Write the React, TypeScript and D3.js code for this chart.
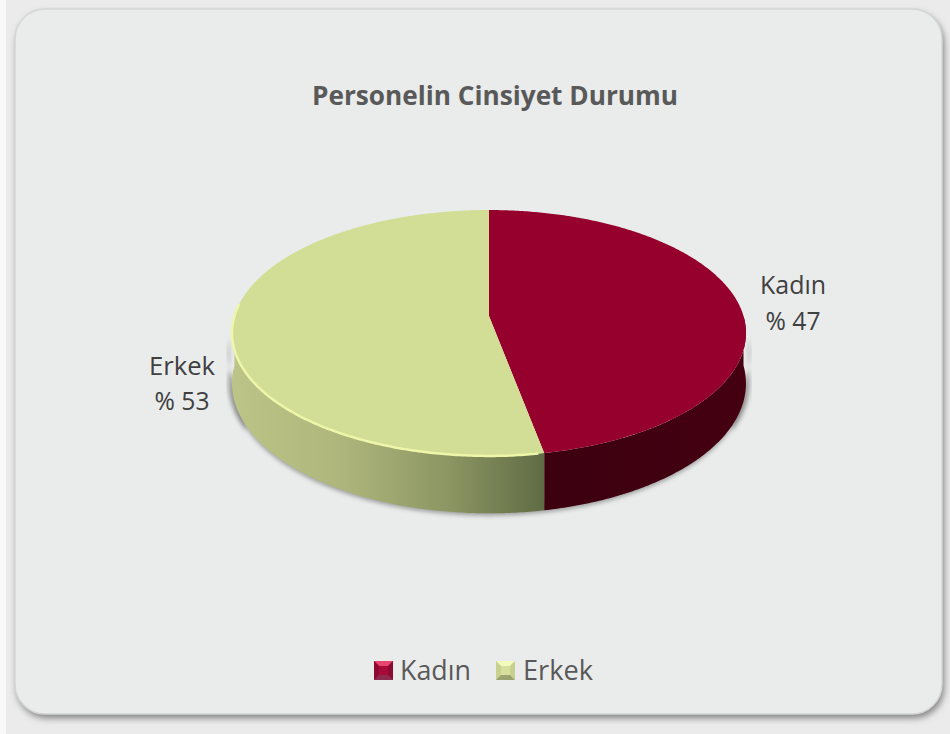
import React from "react";
import * as d3 from "d3";

const categories = ["Kadın", "Erkek"];
const values = [47, 53];
const labels = ["% 47", "% 53"];
const topColors = ["#95002d", "#d2dd95"];
const title = "Personelin Cinsiyet Durumu";

const W = 950, H = 734;
const CX = 489, CY = 316, RX = 254.5, RY = 120.6, K = 0.138, DEPTH = 49.5;

// Tilted-disc projection of a pie angle (0 = top, clockwise)
const project = (a: number, r = 1, drop = 0): [number, number] => {
  const u = Math.sin(a) * r, v = -Math.cos(a) * r;
  const w = 1 / (1 - K * v);
  return [CX + RX * u * w, CY + RY * v * w + drop * w];
};
const angles = (a0: number, a1: number) => {
  const n = Math.max(2, Math.ceil((a1 - a0) / 0.01));
  return d3.range(n + 1).map((i) => a0 + ((a1 - a0) * i) / n);
};
const line = d3.line();
const pieGen = d3.pie<number>().sort(null).value((d) => d);
const slices = pieGen(values);

const sidePath = (a0: number, a1: number, drop = DEPTH, startDrop = 0) => {
  const as = angles(a0, a1);
  const pts = [...as.map((a) => project(a, 1, startDrop)), ...as.slice().reverse().map((a) => project(a, 1, drop))];
  return line(pts) + "Z";
};
const topPath = (a0: number, a1: number) =>
  line([[CX, CY], ...angles(a0, a1).map((a) => project(a))]) + "Z";
const rimPath = (a0: number, a1: number) => line(angles(a0, a1).map((a) => project(a)))!;

const boundary = slices[0].endAngle;
const LEFT = (3 * Math.PI) / 2, RIGHT = Math.PI / 2;

function Bevel({ x, y, size, base, side, top, bottom }: any) {
  const b = size * 0.26;
  return (
    <g transform={`translate(${x},${y})`}>
      <rect width={size} height={size} fill={base} />
      <path d={`M0,0H${size}L${size - b},${b}H${b}Z`} fill={top} />
      <path d={`M0,0V${size}L${b},${size - b}V${b}Z`} fill={side} />
      <path d={`M${size},0V${size}L${size - b},${size - b}V${b}Z`} fill={side} />
      <path d={`M0,${size}H${size}L${size - b},${size - b}H${b}Z`} fill={bottom} />
    </g>
  );
}

export default function App() {
  const font = "'Open Sans', Lato, sans-serif";
  return (
    <svg width={W} height={H} style={{ position: "fixed", left: 0, top: 0, display: "block" }}>
      <defs>
        <filter id="cardShadow" x="-5%" y="-5%" width="110%" height="110%">
          <feGaussianBlur stdDeviation="3.5" />
        </filter>
        <filter id="pieShadow" x="-10%" y="-10%" width="120%" height="120%">
          <feGaussianBlur stdDeviation="2" />
        </filter>
        <linearGradient id="sideErkek" gradientUnits="userSpaceOnUse" x1="232" x2="545" y1="0" y2="0">
          <stop offset="0" stopColor="#bcc587" />
          <stop offset="0.35" stopColor="#aeb67c" />
          <stop offset="0.7" stopColor="#8b9562" />
          <stop offset="1" stopColor="#5f6b44" />
        </linearGradient>
        <linearGradient id="sideKadin" gradientUnits="userSpaceOnUse" x1="545" x2="746" y1="0" y2="0">
          <stop offset="0" stopColor="#3c000f" />
          <stop offset="1" stopColor="#440011" />
        </linearGradient>
      </defs>

      <rect width={W} height={H} fill="#ebebeb" />
      <rect x={0} width={6} height={H} fill="#f8f8f8" />
      <rect x={15} y={9} width={927} height={705} rx={30} fill="#808080" filter="url(#cardShadow)"
        transform="translate(2,4)" />
      <rect x={15} y={9} width={927} height={705} rx={30} fill="#eaeceb" stroke="#d4d6d5" strokeWidth={1.5} />

      <text x={495} y={105} textAnchor="middle" fontFamily={font} fontWeight={700} fontSize={27.5}
        fill="#595959" textLength={366} lengthAdjust="spacingAndGlyphs">{title}</text>

      {/* shadow beneath the disc */}
      <path d={sidePath(RIGHT + 0.1, LEFT - 0.1, DEPTH + 2, DEPTH - 6)} fill="#555" opacity={0.5} filter="url(#pieShadow)" />
      <path d={sidePath(RIGHT + 0.02, RIGHT + 0.5, DEPTH, 20)} fill="#555" opacity={0.45} filter="url(#pieShadow)" transform="translate(4,0)" />
      <path d={sidePath(LEFT - 0.5, LEFT - 0.02, DEPTH, 20)} fill="#555" opacity={0.45} filter="url(#pieShadow)" transform="translate(-4,0)" />

      {/* front wall */}
      <path d={sidePath(RIGHT, boundary)} fill="url(#sideKadin)" />
      <path d={sidePath(boundary, LEFT)} fill="url(#sideErkek)" />

      {/* top face */}
      {slices.map((s, i) => (
        <path key={categories[i]} d={topPath(s.startAngle, s.endAngle)} fill={topColors[i]} />
      ))}
      <path d={rimPath(slices[1].startAngle + 0.02, LEFT + 0.1)} fill="none" stroke="#eef6aa" strokeWidth={2.5} />

      {/* data labels */}
      <g fontFamily={font} fontSize={25} fill="#404040" textAnchor="middle">
        <text x={793} y={294} textLength={66} lengthAdjust="spacingAndGlyphs">{categories[0]}</text>
        <text x={793} y={330} textLength={55} lengthAdjust="spacingAndGlyphs">{labels[0]}</text>
        <text x={182} y={375} textLength={66} lengthAdjust="spacingAndGlyphs">{categories[1]}</text>
        <text x={182} y={410} textLength={55} lengthAdjust="spacingAndGlyphs">{labels[1]}</text>
      </g>

      {/* legend */}
      <Bevel x={374} y={661} size={19} base="#a80a3c" side="#8e0a33" top="#e8456f" bottom="#8e2a4e" />
      <text x={400} y={680} fontFamily={font} fontSize={28} fill="#595959" textLength={71} lengthAdjust="spacingAndGlyphs">{categories[0]}</text>
      <Bevel x={496} y={661} size={19} base="#d6e09c" side="#c8d090" top="#f4fabc" bottom="#9aa270" />
      <text x={523} y={680} fontFamily={font} fontSize={28} fill="#595959" textLength={70} lengthAdjust="spacingAndGlyphs">{categories[1]}</text>
    </svg>
  );
}
